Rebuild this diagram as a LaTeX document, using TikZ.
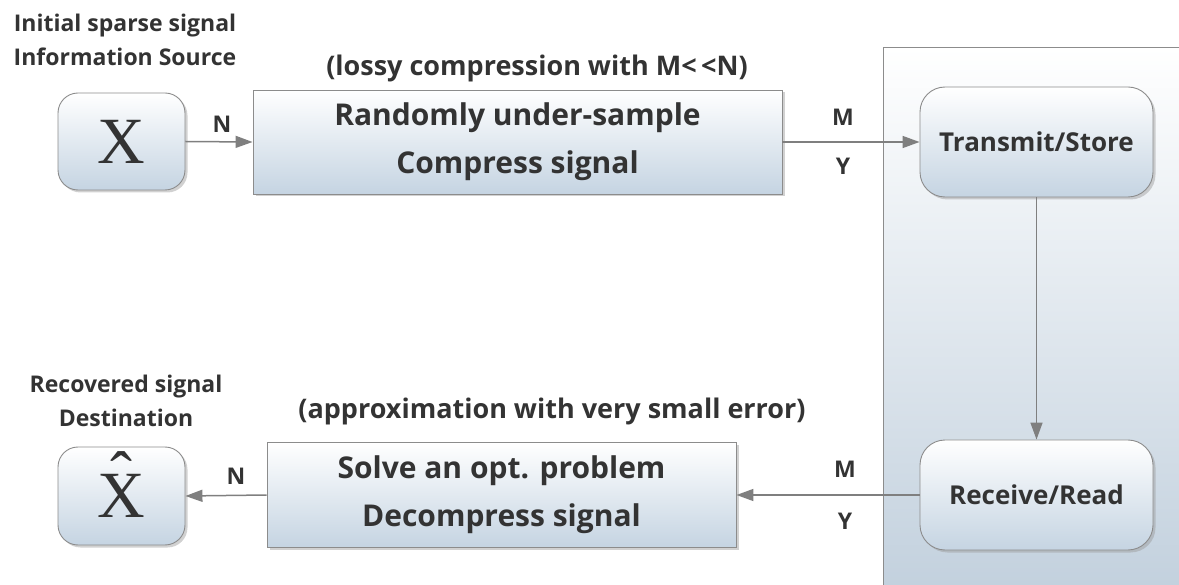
\documentclass[tikz,border=0pt]{standalone}
\usepackage{fontspec}
\setmainfont{Open Sans}
\newfontfamily\serifX{Liberation Serif}
\usetikzlibrary{arrows.meta,shadows}
\definecolor{txt}{HTML}{333333}
\definecolor{boxbot}{HTML}{C5D4E2}
\definecolor{panelbot}{HTML}{C3D1DE}
\definecolor{edge}{HTML}{8C8C8C}
\definecolor{arr}{HTML}{7F7F7F}
\tikzset{
  boxbase/.style={draw=edge, line width=0.9pt, top color=white, bottom color=boxbot,
    inner sep=0pt, text=txt, font=\bfseries\fontsize{30}{48}\selectfont, align=center,
    drop shadow={shadow xshift=2.5pt, shadow yshift=-2.5pt, fill=black!40, opacity=.45}},
  roundbox/.style={boxbase, rounded corners=25pt},
  rectbox/.style={boxbase},
  bigx/.style={font=\serifX\fontsize{66}{66}\selectfont},
  lbl/.style={text=txt, font=\bfseries\fontsize{27}{34}\selectfont, align=center, inner sep=0pt},
  side/.style={text=txt, font=\bfseries\fontsize{23}{34}\selectfont, align=center, inner sep=0pt},
  tag/.style={text=txt, font=\bfseries\fontsize{23}{24}\selectfont, inner sep=0pt},
  conn/.style={draw=arr, line width=1.5pt, -{Triangle[length=17pt,width=12pt]}}
}
\begin{document}
\begin{tikzpicture}[x=1pt,y=-1pt]
\useasboundingbox (0,0) rectangle (1179,585);
% panel
\shade[top color=white, bottom color=panelbot] (883,47) rectangle (1179,585);
\draw[edge, line width=0.9pt] (883,585) -- (883,47) -- (1179,47);
% nodes
\node[roundbox, bigx, minimum width=127pt, minimum height=97pt, rounded corners=20pt] (x) at (121.5,141.5) {X};
\node[rectbox, minimum width=529pt, minimum height=104pt] (comp) at (517.5,142) {Randomly under-sample\\Compress signal};
\node[roundbox, minimum width=233pt, minimum height=110pt, font=\bfseries\fontsize{26}{30}\selectfont] (trans) at (1036.5,142) {Transmit/Store};
\node[roundbox, minimum width=233pt, minimum height=110pt, font=\bfseries\fontsize{26}{30}\selectfont] (recv) at (1036.5,495) {Receive/Read};
\node[rectbox, minimum width=469pt, minimum height=105pt] (dec) at (501.5,495) {Solve an opt. problem\\Decompress signal};
\node[roundbox, bigx, minimum width=127pt, minimum height=98pt, rounded corners=20pt] (xh) at (121.5,496) {\ooalign{X\cr\hidewidth\raisebox{20pt}{ˆ}\hidewidth\cr}};
% labels
\node[side] (srclbl) at (125,40) {Initial sparse signal\\Information Source};
\node[lbl] (lossy) at (537,68) {(lossy compression with M<\,<N)};
\node[side] (dstlbl) at (126,401) {Recovered signal\\Destination};
\node[lbl] (approx) at (552,411) {(approximation with very small error)};
% connectors
\draw[conn] (x.east) -- (comp.west);
\draw[conn] (comp.east) -- (trans.west);
\draw[conn] (trans.south) -- (recv.north);
\draw[conn] (recv.west) -- (dec.east);
\draw[conn] (dec.west) -- (xh.east);
% connector tags
\node[tag] (n1) at (222,124) {N};
\node[tag] (m1) at (843,117) {M};
\node[tag] (y1) at (843,166) {Y};
\node[tag] (m2) at (845,469) {M};
\node[tag] (y2) at (845,521) {Y};
\node[tag] (n2) at (236,476) {N};
\end{tikzpicture}
\end{document}
